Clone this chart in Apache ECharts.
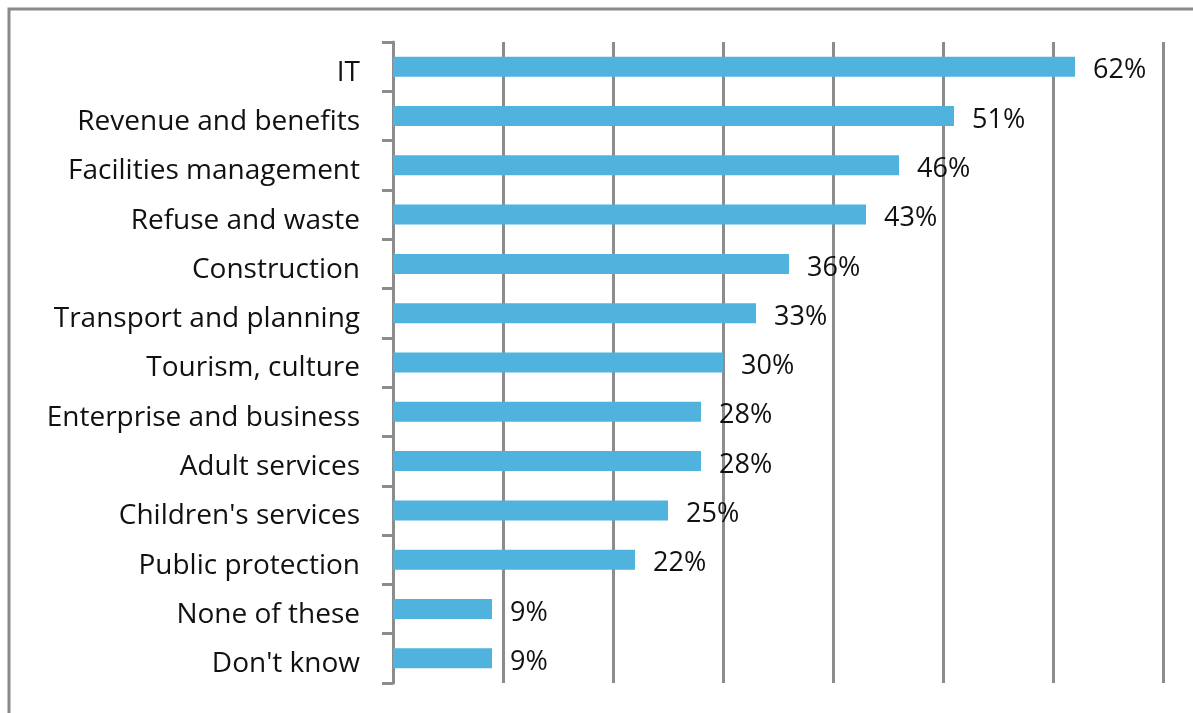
<!DOCTYPE html>
<html>
<head>
<meta charset="utf-8">
<script src="https://cdn.jsdelivr.net/npm/echarts@6/dist/echarts.min.js"></script>
<style>
  html, body { margin: 0; padding: 0; background: #fff; }
  #chart { width: 1193px; height: 713px; }
</style>
</head>
<body>
<div id="chart"></div>
<script>
// Share of respondents by service area (%)
const categories = [
  'IT', 'Revenue and benefits', 'Facilities management', 'Refuse and waste',
  'Construction', 'Transport and planning', 'Tourism, culture',
  'Enterprise and business', 'Adult services', "Children's services",
  'Public protection', 'None of these', "Don't know"
];
const values = [62, 51, 46, 43, 36, 33, 30, 28, 28, 25, 22, 9, 9];

const chart = echarts.init(document.getElementById('chart'));
const font = 'Open Sans';

chart.setOption({
  backgroundColor: '#fff',
  animation: false,
  graphic: [{
    type: 'rect',
    shape: { x: 9, y: 9, width: 1300, height: 800 },
    style: { fill: 'none', stroke: '#8a8a8a', lineWidth: 3 },
    silent: true
  }],
  grid: { left: 393, right: 30, top: 42, bottom: 30, containLabel: false },
  xAxis: {
    type: 'value',
    min: 0, max: 70, interval: 10,
    axisLine: { show: false },
    axisTick: { show: false },
    axisLabel: { show: false },
    splitLine: { show: true, lineStyle: { color: '#8c8c8c', width: 3 } }
  },
  yAxis: {
    type: 'category',
    data: categories,
    inverse: true,
    axisLine: { show: true, lineStyle: { color: '#8c8c8c', width: 3 } },
    axisTick: { show: true, length: 11, lineStyle: { color: '#8c8c8c', width: 3 } },
    axisLabel: {
      margin: 33,
      color: '#111',
      fontFamily: font,
      fontSize: 28,
      verticalAlign: 'top',
      lineHeight: 12
    }
  },
  series: [{
    type: 'bar',
    data: values,
    barWidth: 20,
    itemStyle: { color: '#4fb3de' },
    label: {
      show: true,
      position: 'right',
      distance: 18,
      formatter: '{c}%',
      color: '#111',
      fontFamily: font,
      fontSize: 27,
      offset: [0, 4]
    }
  }]
});
</script>
</body>
</html>
